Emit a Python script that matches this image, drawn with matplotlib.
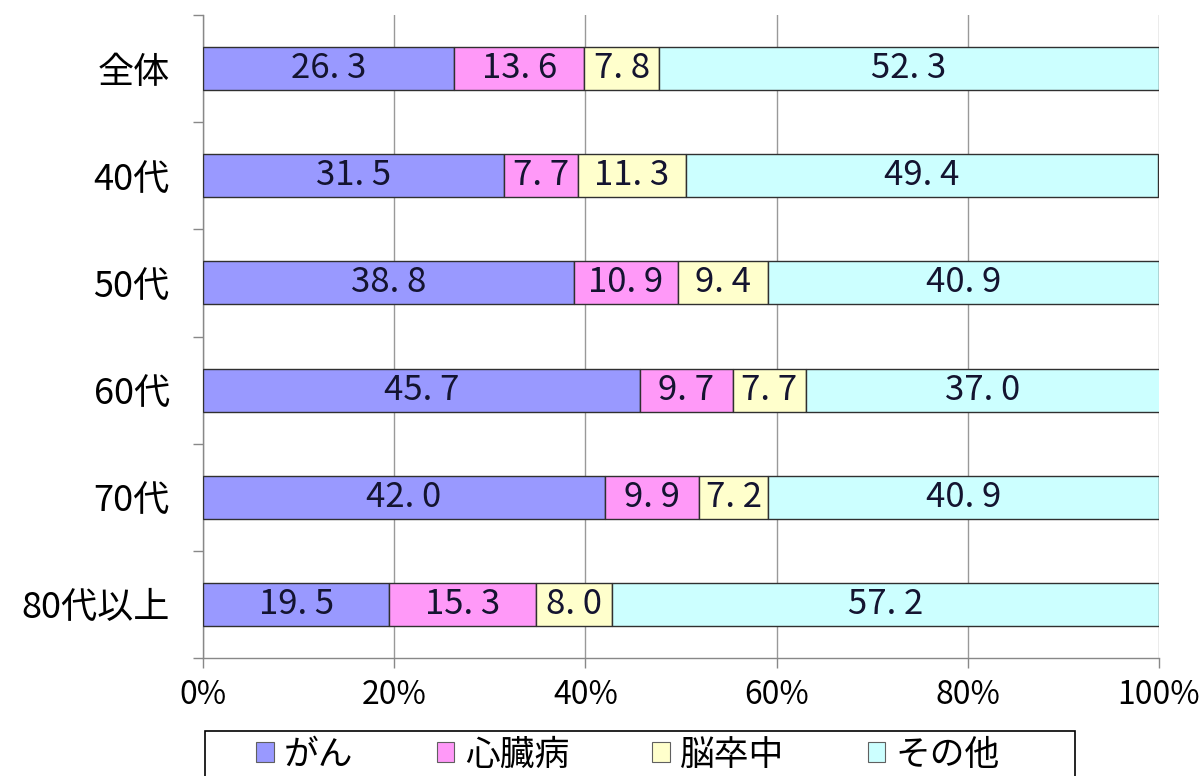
import matplotlib
matplotlib.use("Agg")
import matplotlib.pyplot as plt
import numpy as np
from matplotlib.patches import Patch, Rectangle

plt.rcParams['font.family'] = ['Noto Sans CJK JP', 'DejaVu Sans']

categories = ["全体", "40代", "50代", "60代", "70代", "80代以上"]
series_names = ["がん", "心臓病", "脳卒中", "その他"]
gan = [26.3, 31.5, 38.8, 45.7, 42.0, 19.5]
shinzo = [13.6, 7.7, 10.9, 9.7, 9.9, 15.3]
nosotchu = [7.8, 11.3, 9.4, 7.7, 7.2, 8.0]
sonota = [52.3, 49.4, 40.9, 37.0, 40.9, 57.2]
xtick_labels = ["0%", "20%", "40%", "60%", "80%", "100%"]

colors = ["#9999FF", "#FF99F8", "#FFFFCC", "#CCFFFF"]

W, H = 1202, 776
fig = plt.figure(figsize=(W / 100, H / 100), dpi=100)
ax = fig.add_axes([203 / W, 1 - 658 / H, (1159 - 203) / W, (658 - 15) / H])

y = np.arange(len(categories))
left = np.zeros(len(categories))
for vals, col in zip([gan, shinzo, nosotchu, sonota], colors):
    vals = np.array(vals)
    ax.barh(y, vals, left=left, height=0.4, color=col, edgecolor="#303030",
            linewidth=1.0, zorder=3)
    for yi, l, v in zip(y, left, vals):
        ax.text(l + v / 2, yi, f"{v:.1f}".replace(".", ". "), ha="center",
                va="center", fontsize=25, color="#141430", zorder=4)
    left += vals

ax.set_xlim(0, 100)
ax.set_ylim(len(categories) - 0.5, -0.5)

# x axis
ax.set_xticks(np.arange(0, 101, 20))
ax.set_xticklabels(xtick_labels, fontsize=23)
ax.tick_params(axis="x", direction="out", length=7, width=1, color="#888888",
               pad=8)
ax.xaxis.grid(True, color="#999999", linewidth=1.0, zorder=0)
ax.set_axisbelow(True)

# y axis: ticks at boundaries, labels at centers
ax.set_yticks(np.arange(-0.5, len(categories), 1.0))
ax.set_yticklabels([])
ax.set_yticks(y, minor=True)
ax.set_yticklabels(categories, minor=True, fontsize=26)
ax.tick_params(axis="y", which="major", direction="out", length=7, width=1,
               color="#888888")
ax.tick_params(axis="y", which="minor", length=0, pad=24)

for s in ["top", "right"]:
    ax.spines[s].set_visible(False)
for s in ["left", "bottom"]:
    ax.spines[s].set_color("#888888")
    ax.spines[s].set_linewidth(1.0)

# legend frame (drawn separately, like the reference box)
frame = Rectangle((205 / W, -0.05), 870 / W, (1 - 731 / H) + 0.05,
                  transform=fig.transFigure, facecolor="white",
                  edgecolor="#000000", linewidth=1.2, zorder=1)
fig.patches.append(frame)

handles = [Patch(facecolor=c, edgecolor="#606060", linewidth=0.8) for c in colors]
leg = fig.legend(handles, series_names, loc="center", ncol=4,
                 bbox_to_anchor=(628 / W, 1 - 755 / H),
                 fontsize=25, frameon=False,
                 handlelength=0.5, handleheight=0.5, handletextpad=0.3,
                 columnspacing=2.4, borderpad=0, borderaxespad=0)
leg.set_zorder(2)

fig.savefig("out.png", dpi=100)
